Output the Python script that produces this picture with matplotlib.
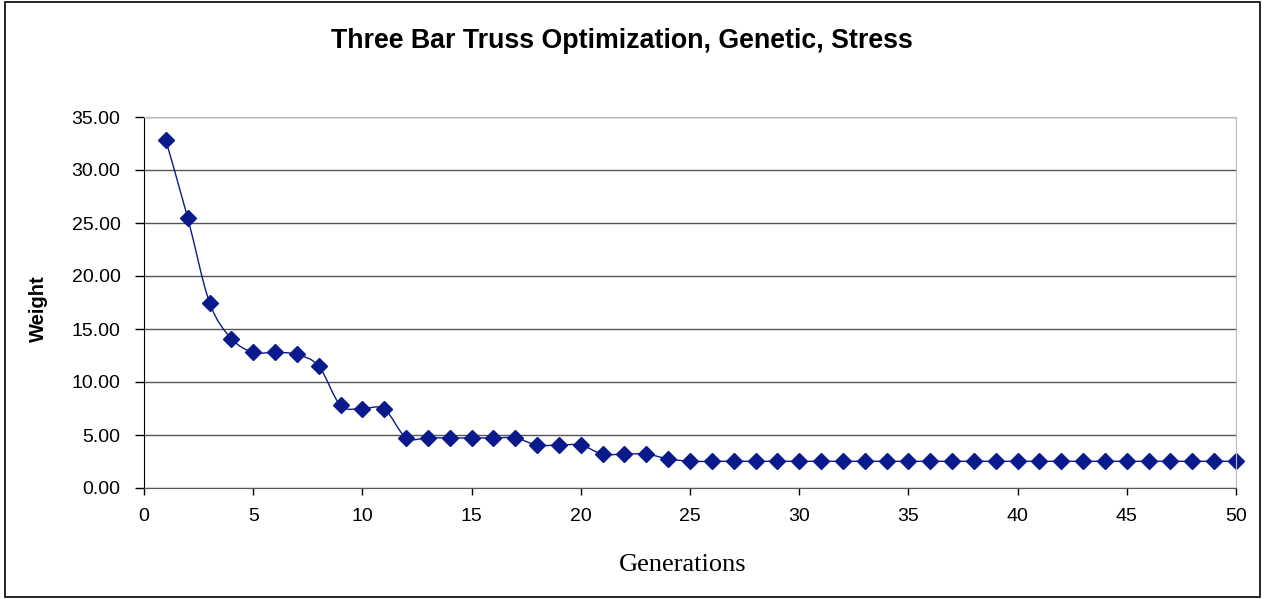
import matplotlib.pyplot as plt
import numpy as np
from matplotlib.path import Path
from matplotlib.patches import PathPatch, Rectangle

generations = list(range(1, 51))
weight = [32.8, 25.5, 17.5, 14.1, 12.8, 12.8, 12.6, 11.5, 7.8, 7.5,
          7.45, 4.75, 4.75, 4.72, 4.72, 4.72, 4.72, 4.05, 4.05, 4.05,
          3.2, 3.2, 3.2, 2.75] + [2.52] * 26

navy = "#0a1a8c"


def smooth_path(x, y, t=1 / 6):
    # Catmull-Rom style bezier segments, like Excel's smoothed line
    x = np.asarray(x, float)
    y = np.asarray(y, float)
    verts = [(x[0], y[0])]
    codes = [Path.MOVETO]
    n = len(x)
    for i in range(n - 1):
        p0 = i - 1 if i > 0 else i
        p3 = i + 2 if i + 2 < n else i + 1
        c1 = (x[i] + (x[i + 1] - x[p0]) * t, y[i] + (y[i + 1] - y[p0]) * t)
        c2 = (x[i + 1] - (x[p3] - x[i]) * t, y[i + 1] - (y[p3] - y[i]) * t)
        verts += [c1, c2, (x[i + 1], y[i + 1])]
        codes += [Path.CURVE4] * 3
    return Path(verts, codes)


fig = plt.figure(figsize=(12.65, 5.99), dpi=100)
fig.patches.append(Rectangle((0.004, 0.004), 0.992, 0.992, transform=fig.transFigure,
                             fill=False, edgecolor="black", linewidth=1.2))
ax = fig.add_axes([144 / 1265, 1 - 488 / 599, (1236 - 144) / 1265, (488 - 117) / 599])

ax.add_patch(PathPatch(smooth_path(generations, weight), fill=False,
                       edgecolor=navy, linewidth=1.0))
ax.plot(generations, weight, linestyle="none", marker="D", markersize=8,
        color=navy, markeredgecolor=navy, clip_on=False)

ax.set_xlim(0, 50)
ax.set_ylim(0, 35)
ax.set_xticks(range(0, 51, 5))
ax.set_yticks(np.arange(0, 36, 5))
ax.set_yticklabels([f"{v:.2f}" for v in np.arange(0, 36, 5)])
ax.yaxis.grid(True, color="#555555", linewidth=1.0)
ax.set_axisbelow(True)
for side in ("top", "right"):
    ax.spines[side].set_color("#bbbbbb")
ax.spines["left"].set_color("black")
ax.spines["bottom"].set_color("#555555")
ax.tick_params(direction="out", labelsize=14, width=1,
               labelfontfamily="Liberation Sans")
ax.tick_params(axis="y", length=6.5, pad=10.5)
ax.tick_params(axis="x", length=5, pad=9.5)

ax.set_ylabel("Weight", fontsize=14.5, fontweight="bold", family="Liberation Sans")
ax.yaxis.set_label_coords((38 - 144) / (1236 - 144), (488 - 309) / (488 - 117))
ax.set_xlabel("Generations", fontsize=19, family="Liberation Serif")
ax.xaxis.set_label_coords((683 - 144) / (1236 - 144), -(565 - 488) / (488 - 117))
ax.xaxis.label.set_va("center")
ax.yaxis.label.set_va("center")
fig.text(622 / 1265, 1 - 41 / 599, "Three Bar Truss Optimization, Genetic, Stress",
         ha="center", va="center", fontsize=19.3, fontweight="bold",
         family="Liberation Sans")

fig.savefig("out.png", dpi=100)
